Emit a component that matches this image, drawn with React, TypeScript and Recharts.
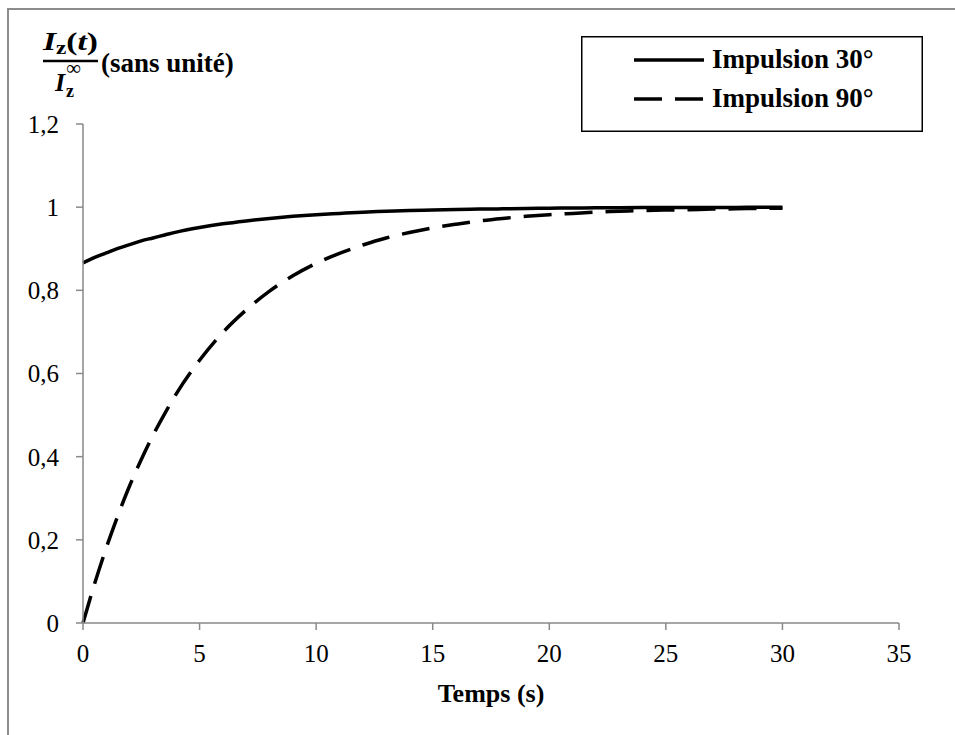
import React from 'react';
import { LineChart, Line, XAxis, YAxis, Legend } from 'recharts';

const times = [0, 0.5, 1, 1.5, 2, 2.5, 3, 3.5, 4, 5, 6, 7, 8, 9, 10, 11, 12, 13, 14, 15, 16, 17, 18, 19, 20, 21, 22, 23, 24, 25, 26, 27, 28, 29, 30];
const impulsion30 = [0.866, 0.879, 0.89, 0.901, 0.91, 0.919, 0.926, 0.933, 0.94, 0.951, 0.96, 0.967, 0.973, 0.978, 0.982, 0.985, 0.988, 0.99, 0.992, 0.993, 0.9945, 0.9955, 0.996, 0.997, 0.9975, 0.998, 0.9984, 0.9987, 0.999, 0.9991, 0.9992, 0.9994, 0.9995, 0.9996, 0.9997];
const impulsion90 = [0, 0.095, 0.181, 0.259, 0.33, 0.393, 0.451, 0.503, 0.551, 0.632, 0.699, 0.753, 0.798, 0.835, 0.865, 0.889, 0.909, 0.926, 0.939, 0.95, 0.959, 0.967, 0.973, 0.978, 0.982, 0.985, 0.988, 0.99, 0.992, 0.993, 0.994, 0.9955, 0.996, 0.997, 0.9975];
const xTicks = [0, 5, 10, 15, 20, 25, 30, 35];
const yTicks = [0, 0.2, 0.4, 0.6, 0.8, 1, 1.2];

const data = times.map((t, i) => ({ t, a: impulsion30[i], b: impulsion90[i] }));

const FONT = '"Liberation Serif", "Times New Roman", serif';
const AXIS = '#898989';
const DASH = '28 13';

function LegendBox({ payload }: any) {
  const items = payload || [];
  return (
    <svg width={342} height={96} style={{ display: 'block' }}>
      <rect x={0.75} y={0.75} width={340.5} height={94.5} fill="#fff" stroke="#000" strokeWidth={1.5} />
      {items.map((p: any, i: number) => {
        const cy = 24 + i * 39;
        return (
          <g key={p.value}>
            <line x1={53} x2={123} y1={cy} y2={cy} stroke="#000" strokeWidth={3.5}
              strokeDasharray={p.payload && p.payload.strokeDasharray ? p.payload.strokeDasharray : undefined} />
            <text x={131} y={cy + 8} fontFamily={FONT} fontWeight="bold" fontSize={27} fill="#000">{p.value}</text>
          </g>
        );
      })}
    </svg>
  );
}

function Title() {
  return (
    <svg width={300} height={120} style={{ position: 'absolute', left: 0, top: 0, pointerEvents: 'none' }}>
      <text x={43} y={50} fontFamily={FONT} fontWeight="bold" fontSize={26} fill="#000"
        textLength={55} lengthAdjust="spacingAndGlyphs">
        <tspan fontStyle="italic">I</tspan>
        <tspan fontSize={18} dy={4}>z</tspan>
        <tspan dy={-4}>(</tspan>
        <tspan fontStyle="italic">t</tspan>
        <tspan>)</tspan>
      </text>
      <line x1={43} x2={98} y1={61} y2={61} stroke="#000" strokeWidth={2.5} />
      <text x={55} y={91} fontFamily={FONT} fontWeight="bold" fontStyle="italic" fontSize={26} fill="#000">I</text>
      <text x={66} y={97} fontFamily={FONT} fontWeight="bold" fontSize={18} fill="#000">z</text>
      <text x={66} y={75} fontFamily={FONT} fontSize={21} fill="#000">∞</text>
      <text x={101} y={72} fontFamily={FONT} fontWeight="bold" fontSize={27} fill="#000">(sans unité)</text>
    </svg>
  );
}

export default function App() {
  return (
    <div style={{ position: 'absolute', left: 0, top: 0, width: 955, height: 735, background: '#fff', overflow: 'hidden' }}>
      <div style={{ position: 'absolute', left: 7, top: 8, width: 1000, height: 800, borderLeft: '2px solid #8c8c8c', borderTop: '2px solid #8c8c8c' }} />
      <LineChart width={955} height={735} data={data} margin={{ top: 124, right: 56, bottom: 62, left: 23 }}
        style={{ position: 'absolute', left: 0, top: 0 }}>
        <XAxis type="number" dataKey="t" domain={[0, 35]} ticks={xTicks} height={50}
          stroke={AXIS} strokeWidth={1.5} tickSize={7} tickMargin={14}
          tick={{ fill: '#000', fontSize: 25, fontFamily: FONT }}
          label={({ viewBox }: any) => (
            <text x={viewBox.x + viewBox.width / 2} y={702} textAnchor="middle" fontFamily={FONT}
              fontWeight="bold" fontSize={26} fill="#000">Temps (s)</text>
          )} />
        <YAxis type="number" domain={[0, 1.2]} ticks={yTicks} width={60}
          stroke={AXIS} strokeWidth={1.5} tickSize={7} tickMargin={17}
          tick={{ fill: '#000', fontSize: 25, fontFamily: FONT }}
          tickFormatter={(v: number) => String(v).replace('.', ',')} />
        <Legend layout="horizontal" verticalAlign="middle" align="center" content={<LegendBox />}
          wrapperStyle={{ position: 'absolute', left: 581, top: 36, width: 342, height: 96 }} />
        <Line name="Impulsion 30°" dataKey="a" type="monotone" stroke="#000" strokeWidth={3.5}
          dot={false} activeDot={false} isAnimationActive={false} />
        <Line name="Impulsion 90°" dataKey="b" type="monotone" stroke="#000" strokeWidth={3.5}
          strokeDasharray={DASH} dot={false} activeDot={false} isAnimationActive={false} />
      </LineChart>
      <Title />
    </div>
  );
}
